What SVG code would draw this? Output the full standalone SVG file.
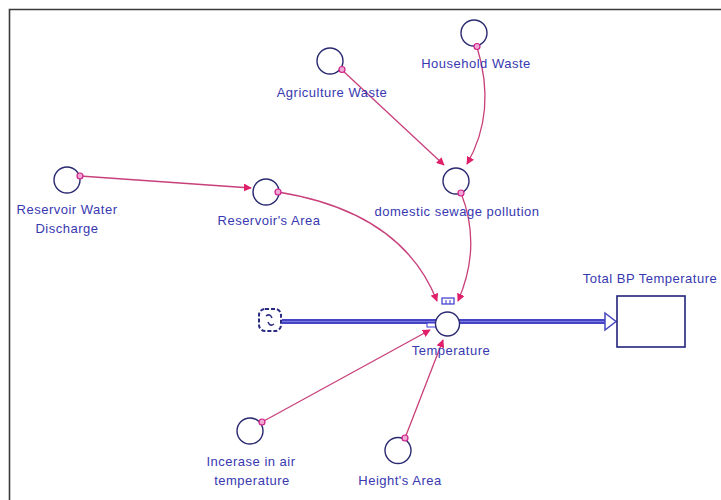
<svg xmlns="http://www.w3.org/2000/svg" width="721" height="500" viewBox="0 0 721 500">
<defs>
<style>
.lbl{font-family:"Liberation Sans",Arial,sans-serif;font-size:13px;letter-spacing:0.5px;fill:#3838b0;text-anchor:middle}
.aux{fill:#fff;stroke:#2a2a70;stroke-width:1.4}
.con{fill:none;stroke:#c8407a;stroke-width:1.3}
.dot{fill:#f2a8d4;stroke:#d0208a;stroke-width:1.2}
.pipe{fill:none;stroke:#4444c4;stroke-width:5}
.pipein{fill:none;stroke:#7c7ce0;stroke-width:1}
</style>
<marker id="ah" viewBox="0 0 10 10" refX="9" refY="5" markerWidth="8" markerHeight="8" markerUnits="userSpaceOnUse" orient="auto">
<path d="M0,0 L10,5 L0,10 Z" fill="#e0206a"/>
</marker>
</defs>
<rect width="721" height="500" fill="#fff"/>
<path d="M9.5,500 V9.5 H721" fill="none" stroke="#3a3a3a" stroke-width="1.6"/>

<g id="flows">
<line class="pipe" x1="282" y1="321.5" x2="436" y2="321.5"/>
<line class="pipein" x1="282" y1="321.5" x2="436" y2="321.5"/>
<line class="pipe" x1="459" y1="321.5" x2="606" y2="321.5"/>
<line class="pipein" x1="459" y1="321.5" x2="606" y2="321.5"/>
<path d="M605,313 L616,321.5 L605,330 Z" fill="#fff" stroke="#4646c0" stroke-width="1.5"/>
</g>

<g id="connectors">
<path class="con" d="M80,176 L251,188" marker-end="url(#ah)"/>
<path class="con" d="M342,70 L444,165" marker-end="url(#ah)"/>
<path class="con" d="M477,47 Q497,112 467,164" marker-end="url(#ah)"/>
<path class="con" d="M278,192 Q402,212 437,301" marker-end="url(#ah)"/>
<path class="con" d="M461,193 Q482,246 458,301" marker-end="url(#ah)"/>
<path class="con" d="M262,422 L430,330" marker-end="url(#ah)"/>
<path class="con" d="M405,438 L443,340" marker-end="url(#ah)"/>
</g>

<g id="cloud">
<rect x="259" y="309" width="22" height="22" rx="6" fill="#fff" stroke="#2a2a80" stroke-width="2" stroke-dasharray="4,2"/>
<path d="M266,316 q4,-3 6,2 M274,324 q-4,3 -6,-2" fill="none" stroke="#2a2a80" stroke-width="1.5"/>
</g>

<g id="household-waste">
<circle class="aux" cx="474" cy="33" r="13"/>
<circle class="dot" cx="477" cy="46.5" r="3"/>
<text class="lbl" x="476" y="68">Household Waste</text>
</g>

<g id="agriculture-waste">
<circle class="aux" cx="330" cy="61" r="13"/>
<circle class="dot" cx="342" cy="69.5" r="3"/>
<text class="lbl" x="332" y="97">Agriculture Waste</text>
</g>

<g id="domestic-sewage-pollution">
<circle class="aux" cx="456" cy="181" r="13"/>
<circle class="dot" cx="461" cy="193" r="3"/>
<text class="lbl" x="457" y="216">domestic sewage pollution</text>
</g>

<g id="reservoir-water-discharge">
<circle class="aux" cx="67" cy="180" r="13"/>
<circle class="dot" cx="80" cy="176" r="3"/>
<text class="lbl" x="67" y="214">Reservoir Water</text>
<text class="lbl" x="67" y="233">Discharge</text>
</g>

<g id="reservoirs-area">
<circle class="aux" cx="266" cy="192" r="13"/>
<circle class="dot" cx="278" cy="192" r="3"/>
<text class="lbl" x="269" y="225">Reservoir's Area</text>
</g>

<g id="temperature">
<rect x="442" y="298" width="12" height="6" fill="#fff" stroke="#3a3ad0" stroke-width="1.2"/>
<path d="M446,300 V304 M450,300 V304" stroke="#3a3ad0" stroke-width="1"/>
<rect x="427" y="323" width="9" height="4" fill="#fff" stroke="#3a3ad0" stroke-width="1"/>
<circle class="aux" cx="447.5" cy="324" r="12"/>
<text class="lbl" x="451" y="355">Temperature</text>
</g>

<g id="total-bp-temperature">
<rect x="617" y="296" width="68" height="51" fill="#fff" stroke="#22227a" stroke-width="1.6"/>
<text class="lbl" x="650" y="283">Total BP Temperature</text>
</g>

<g id="incerase-in-air-temperature">
<circle class="aux" cx="250" cy="431" r="13"/>
<circle class="dot" cx="262" cy="422" r="3"/>
<text class="lbl" x="251" y="466">Incerase in air</text>
<text class="lbl" x="252" y="485">temperature</text>
</g>

<g id="heights-area">
<circle class="aux" cx="398" cy="450.5" r="13"/>
<circle class="dot" cx="405" cy="438" r="3"/>
<text class="lbl" x="400" y="485">Height's Area</text>
</g>
</svg>
